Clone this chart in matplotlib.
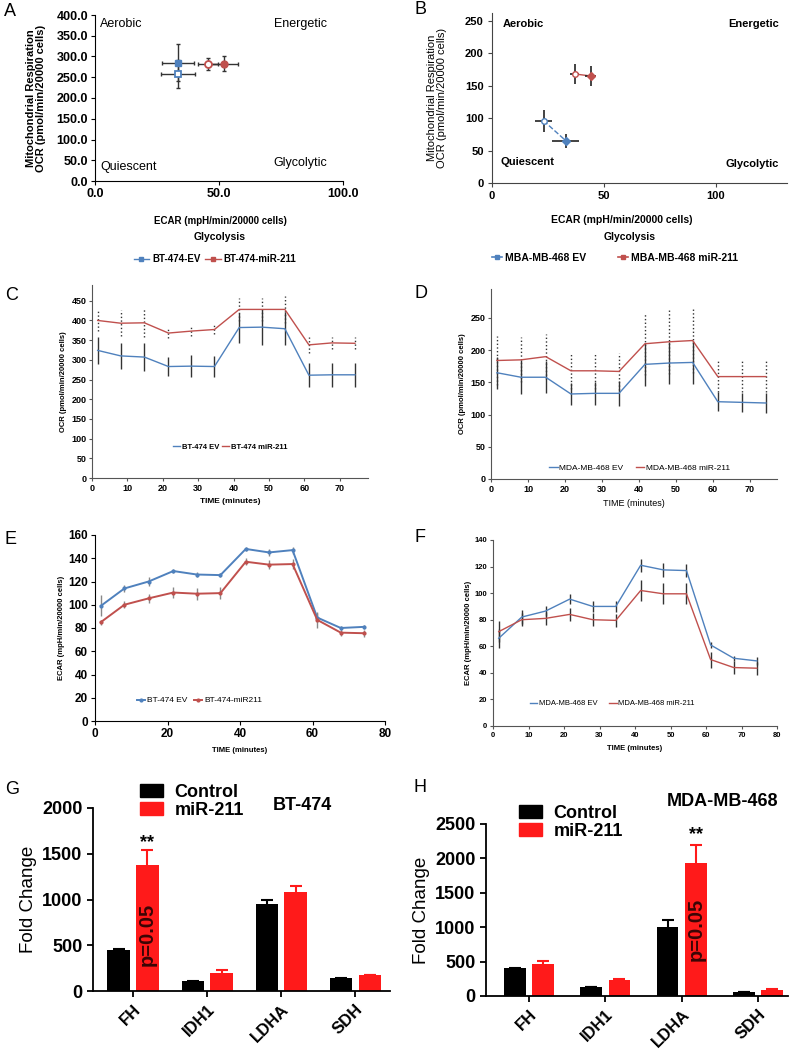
import numpy as np
import matplotlib
matplotlib.use("Agg")
import matplotlib.pyplot as plt
from matplotlib.lines import Line2D
from matplotlib.patches import Patch

plt.rcParams["font.family"] = ["Liberation Sans", "DejaVu Sans"]

W, H = 800, 1051
BLUE = "#4f81bd"
RED = "#c0504d"

# ---- A: energy map BT-474 (open, filled) ----
a_ev_ecar = [33.5, 33.5]
a_ev_ocr = [258, 285]
a_ev_xerr = [7.0, 6.5]
a_ev_yerr = [33, 45]
a_mir_ecar = [45.5, 52.0]
a_mir_ocr = [282, 282]
a_mir_xerr = [4.0, 5.5]
a_mir_yerr = [15, 18]

# ---- B: energy map MDA-MB-468 (open, filled) ----
b_ev_ecar = [23, 33]
b_ev_ocr = [96, 65]
b_ev_xerr = [4, 6]
b_ev_yerr = [17, 11]
b_mir_ecar = [37, 44]
b_mir_ocr = [168, 165]
b_mir_xerr = [2, 2.5]
b_mir_yerr = [16, 16]

# ---- time points (minutes) ----
time = [1.6, 8.1, 14.8, 21.6, 28.1, 34.6, 41.6, 48.0, 54.5, 61.3, 67.8, 74.3]

# ---- C: OCR BT-474 ----
c_ev = [324, 310, 307, 283, 284, 283, 382, 383, 379, 261, 262, 262]
c_ev_err = [34, 33, 35, 25, 28, 27, 38, 45, 42, 30, 30, 30]
c_mir = [400, 393, 394, 368, 373, 377, 428, 428, 428, 338, 343, 342]
c_mir_err = [27, 33, 35, 13, 13, 12, 30, 30, 35, 20, 15, 15]

# ---- D: OCR MDA-MB-468 ----
d_ev = [165, 158, 158, 132, 133, 133, 178, 180, 181, 120, 119, 118]
d_ev_err = [25, 26, 25, 17, 18, 19, 33, 33, 34, 15, 15, 15]
d_mir = [184, 185, 190, 168, 168, 167, 210, 213, 215, 159, 159, 159]
d_mir_err = [38, 35, 35, 28, 28, 29, 48, 50, 50, 24, 24, 24]

# ---- E: ECAR BT-474 ----
e_ev = [99, 114, 120, 129, 126, 125.5, 148, 145, 147, 89, 80, 81]
e_ev_err = [9, 3, 4, 1.5, 2, 2, 2, 3, 3, 4, 2, 2]
e_mir = [85, 100, 105.5, 110.5, 109.5, 110, 137, 134.5, 135, 87, 76, 75.5]
e_mir_err = [2, 3, 4, 5, 5, 5, 3, 4, 4, 7, 3, 3]

# ---- F: ECAR MDA-MB-468 ----
f_ev = [66, 82, 86.5, 95.5, 90, 90, 121, 117.5, 117, 61, 51, 49]
f_ev_err = [7, 5, 4, 4, 4, 4, 5, 5, 5, 2, 2, 3]
f_mir = [71, 80, 81, 84, 80, 79.5, 102, 99.5, 99.5, 50, 44, 43.5]
f_mir_err = [8, 5, 5, 5, 5, 5, 8, 8, 8, 6, 5, 5]

# ---- G / H: fold change ----
genes = ["FH", "IDH1", "LDHA", "SDH"]
g_ctrl = [450, 105, 955, 140]
g_ctrl_err = [10, 5, 40, 5]
g_mir = [1380, 200, 1080, 175]
g_mir_err = [160, 25, 70, 5]
h_ctrl = [400, 130, 1000, 60]
h_ctrl_err = [5, 5, 100, 5]
h_mir = [470, 230, 1930, 90]
h_mir_err = [40, 15, 270, 15]


def px_axes(fig, left, top, right, bottom):
    return fig.add_axes([left / W, 1 - bottom / H, (right - left) / W,
                         (bottom - top) / H])


def fxy(x, y):
    return x / W, 1 - y / H


def plain(ax, color="black"):
    for s in ("top", "right"):
        ax.spines[s].set_visible(False)
    for s in ("left", "bottom"):
        ax.spines[s].set_color(color)


fig = plt.figure(figsize=(8, 10.51), dpi=100)

for letter, x, y in [("A", 10, 12), ("B", 420, 10), ("C", 12, 296),
                     ("D", 421, 294), ("E", 11, 540), ("F", 420, 538),
                     ("G", 12, 789), ("H", 420, 788)]:
    fig.text(*fxy(x, y), letter, fontsize=13, ha="center", va="center")

# ================= A =================
ax = px_axes(fig, 95, 15, 343, 181)
plain(ax)
ax.plot(a_ev_ecar, a_ev_ocr, color=BLUE, lw=1, ls="--")
ax.plot(a_mir_ecar, a_mir_ocr, color=RED, lw=1)
ax.errorbar(a_ev_ecar, a_ev_ocr, xerr=a_ev_xerr, yerr=a_ev_yerr, fmt="none",
            ecolor="#333333", elinewidth=1, capsize=1.5)
ax.errorbar(a_mir_ecar, a_mir_ocr, xerr=a_mir_xerr, yerr=a_mir_yerr,
            fmt="none", ecolor="#333333", elinewidth=1, capsize=1.5)
ax.plot(a_ev_ecar[0], a_ev_ocr[0], "s", mfc="white", mec=BLUE, ms=5, mew=1.3)
ax.plot(a_ev_ecar[1], a_ev_ocr[1], "s", color=BLUE, ms=5)
ax.plot(a_mir_ecar[0], a_mir_ocr[0], "o", mfc="white", mec=RED, ms=5, mew=1.3)
ax.plot(a_mir_ecar[1], a_mir_ocr[1], "o", color=RED, ms=5)
ax.set_xlim(0, 100)
ax.set_ylim(0, 400)
ax.set_xticks([0, 50, 100])
ax.set_xticklabels(["0.0", "50.0", "100.0"], fontweight="bold", fontsize=9)
ax.set_yticks(np.arange(0, 401, 50))
ax.set_yticklabels([f"{v:.1f}" for v in np.arange(0, 401, 50)],
                   fontweight="bold", fontsize=9)
ax.tick_params(length=3, pad=2)
ax.text(2, 378, "Aerobic", fontsize=9, va="center")
ax.text(72, 378, "Energetic", fontsize=9, va="center")
ax.text(2, 33, "Quiescent", fontsize=9, va="center")
ax.text(72, 43, "Glycolytic", fontsize=9, va="center")
fig.text(*fxy(36, 98), "Mitochondrial Respiration\nOCR (pmol/min/20000 cells)",
         rotation=90, ha="center", va="center", fontsize=8,
         fontweight="bold", linespacing=1.0)
fig.text(*fxy(220, 221), "ECAR (mpH/min/20000 cells)", ha="center",
         va="center", fontsize=7, fontweight="bold")
fig.text(*fxy(220, 237), "Glycolysis", ha="center", va="center", fontsize=7.5,
         fontweight="bold")
hA = [Line2D([], [], color=BLUE, marker="s", ms=3.5, lw=1),
      Line2D([], [], color=RED, marker="s", ms=3.5, lw=1)]
fig.legend(hA, ["BT-474-EV", "BT-474-miR-211"], loc="center",
           bbox_to_anchor=fxy(215, 259), ncol=2, frameon=False,
           prop={"size": 7, "weight": "bold"}, handlelength=1.6,
           handletextpad=0.3, columnspacing=0.5)

# ================= B =================
ax = px_axes(fig, 492, 13, 787, 183)
plain(ax, "#444444")
ax.plot(b_ev_ecar, b_ev_ocr, color=BLUE, lw=1, ls="--")
ax.plot(b_mir_ecar, b_mir_ocr, color=RED, lw=1)
ax.errorbar(b_ev_ecar, b_ev_ocr, xerr=b_ev_xerr, yerr=b_ev_yerr, fmt="none",
            ecolor="#222222", elinewidth=1.2, capsize=0)
ax.errorbar(b_mir_ecar, b_mir_ocr, xerr=b_mir_xerr, yerr=b_mir_yerr,
            fmt="none", ecolor="#222222", elinewidth=1.2, capsize=0)
ax.plot(b_ev_ecar[0], b_ev_ocr[0], "o", mfc="white", mec=BLUE, ms=4, mew=1)
ax.plot(b_ev_ecar[1], b_ev_ocr[1], "D", color=BLUE, ms=4)
ax.plot(b_mir_ecar[0], b_mir_ocr[0], "o", mfc="white", mec=RED, ms=4, mew=1)
ax.plot(b_mir_ecar[1], b_mir_ocr[1], "D", color=RED, ms=4)
ax.set_xlim(0, 131.7)
ax.set_ylim(0, 262)
ax.set_xticks([0, 50, 100])
ax.set_yticks(np.arange(0, 251, 50))
for lab in ax.get_xticklabels() + ax.get_yticklabels():
    lab.set_fontweight("bold")
    lab.set_fontsize(8)
ax.tick_params(length=3, pad=3, color="#444444")
ax.text(5, 245, "Aerobic", fontsize=8, fontweight="bold", va="center")
ax.text(128, 245, "Energetic", fontsize=8, fontweight="bold", va="center",
        ha="right")
ax.text(4, 32, "Quiescent", fontsize=8, fontweight="bold", va="center")
ax.text(128, 30, "Glycolytic", fontsize=8, fontweight="bold", va="center",
        ha="right")
fig.text(*fxy(437, 98), "Mitochondrial Respiration\nOCR (pmol/min/20000 cells)",
         rotation=90, ha="center", va="center", fontsize=8,
         linespacing=1.05)
fig.text(*fxy(622, 220), "ECAR (mpH/min/20000 cells)", ha="center",
         va="center", fontsize=7.5, fontweight="bold")
fig.text(*fxy(630, 237), "Glycolysis", ha="center", va="center", fontsize=7.5,
         fontweight="bold")
hB = [Line2D([], [], color=BLUE, marker="s", ms=3, lw=1.2),
      Line2D([], [], color=RED, marker="s", ms=3, lw=1.2)]
fig.legend(hB, ["MBA-MB-468 EV", "MBA-MB-468 miR-211"], loc="center",
           bbox_to_anchor=fxy(615, 258), ncol=2, frameon=False,
           prop={"size": 7.5, "weight": "bold"}, handlelength=1.0,
           handletextpad=0.3, columnspacing=3.0)


def timecourse(ax, ev, ev_err, mir, mir_err, ev_label, mir_label, mir_ls,
               lw=1.0, marker=None, ecolor="#333333", ms=2):
    ax.errorbar(time, ev, yerr=ev_err, fmt="none", ecolor=ecolor,
                elinewidth=1.0, capsize=0, zorder=1)
    eb = ax.errorbar(time, mir, yerr=mir_err, fmt="none", ecolor=ecolor,
                     elinewidth=1.0, capsize=0, zorder=1)
    eb[2][0].set_linestyle(mir_ls)
    ax.plot(time, ev, color=BLUE, lw=lw, marker=marker, ms=ms, zorder=3,
            label=ev_label)
    ax.plot(time, mir, color=RED, lw=lw, marker=marker, ms=ms, zorder=3,
            label=mir_label)
    plain(ax, "#555555")
    ax.tick_params(length=2, pad=2, color="#555555")


# ================= C =================
ax = px_axes(fig, 92, 285, 368, 478)
timecourse(ax, c_ev, c_ev_err, c_mir, c_mir_err, "BT-474 EV",
           "BT-474 miR-211", ":")
ax.set_xlim(0, 78)
ax.set_ylim(0, 490)
ax.set_xticks(np.arange(0, 71, 10))
ax.set_yticks(np.arange(0, 451, 50))
for lab in ax.get_xticklabels() + ax.get_yticklabels():
    lab.set_fontsize(6.5)
    lab.set_fontweight("bold")
ax.set_xlabel("TIME (minutes)", fontsize=6, fontweight="bold", labelpad=4)
ax.set_ylabel("OCR (pmol/min/20000 cells)", fontsize=5.5, fontweight="bold",
              labelpad=3)
ax.legend(loc="center", bbox_to_anchor=(0.5, 0.16), ncol=2, frameon=False,
          prop={"size": 5.5, "weight": "bold"}, handlelength=1.0,
          handletextpad=0.2, columnspacing=0.3)

# ================= D =================
ax = px_axes(fig, 491, 289, 777, 479)
timecourse(ax, d_ev, d_ev_err, d_mir, d_mir_err, "MDA-MB-468 EV",
           "MDA-MB-468 miR-211", ":")
ax.set_xlim(0, 77.3)
ax.set_ylim(0, 295)
ax.set_xticks(np.arange(0, 71, 10))
ax.set_yticks(np.arange(0, 251, 50))
for lab in ax.get_xticklabels() + ax.get_yticklabels():
    lab.set_fontsize(6.5)
    lab.set_fontweight("bold")
ax.set_xlabel("TIME (minutes)", fontsize=6.5, labelpad=4)
ax.set_ylabel("OCR (pmol/min/20000 cells)", fontsize=5.5, fontweight="bold",
              labelpad=3)
ax.legend(loc="center", bbox_to_anchor=(0.52, 0.06), ncol=2, frameon=False,
          prop={"size": 6}, handlelength=1.0, handletextpad=0.2,
          columnspacing=1.5)

# ================= E =================
ax = px_axes(fig, 95, 535, 385, 721)
timecourse(ax, e_ev, e_ev_err, e_mir, e_mir_err, "BT-474 EV",
           "BT-474-miR211", "-", lw=1.4, marker="o", ecolor="#888888", ms=2)
ax.set_xlim(0, 80)
ax.set_ylim(0, 160)
ax.set_xticks(np.arange(0, 81, 20))
ax.set_yticks(np.arange(0, 161, 20))
for lab in ax.get_xticklabels() + ax.get_yticklabels():
    lab.set_fontsize(8.5)
    lab.set_fontweight("bold")
ax.spines["left"].set_color("black")
ax.spines["bottom"].set_color("black")
ax.tick_params(length=3, color="black")
ax.set_xlabel("TIME (minutes)", fontsize=5.5, fontweight="bold", labelpad=5)
ax.set_ylabel("ECAR (mpH/min/20000 cells)", fontsize=5.5, fontweight="bold",
              labelpad=2)
ax.legend(loc="center", bbox_to_anchor=(0.36, 0.11), ncol=2, frameon=False,
          prop={"size": 6}, handlelength=1.0, handletextpad=0.2,
          columnspacing=0.8)

# ================= F =================
ax = px_axes(fig, 493, 540, 777, 726)
timecourse(ax, f_ev, f_ev_err, f_mir, f_mir_err, "MDA-MB-468 EV",
           "MDA-MB-468 miR-211", "-", lw=1.0, ecolor="#333333")
ax.set_xlim(0, 80)
ax.set_ylim(0, 140)
ax.set_xticks(np.arange(0, 81, 10))
ax.set_yticks(np.arange(0, 141, 20))
for lab in ax.get_xticklabels() + ax.get_yticklabels():
    lab.set_fontsize(5.5)
    lab.set_fontweight("bold")
ax.set_xlabel("TIME (minutes)", fontsize=5.5, fontweight="bold", labelpad=5)
ax.set_ylabel("ECAR (mpH/min/20000 cells)", fontsize=5.5, fontweight="bold",
              labelpad=2)
ax.legend(loc="center", bbox_to_anchor=(0.42, 0.12), ncol=2, frameon=False,
          prop={"size": 5.5}, handlelength=1.0, handletextpad=0.2,
          columnspacing=1.5)


def foldchange(ax, ctrl, ctrl_err, mir, mir_err, ylim, yticks, width, off):
    x = np.arange(len(genes))
    ax.bar(x - off, ctrl, width, color="black", yerr=ctrl_err,
           error_kw=dict(ecolor="black", elinewidth=1.5, capsize=4,
                         capthick=1.5))
    ax.bar(x + off, mir, width, color="#ff1a1a", yerr=mir_err,
           error_kw=dict(ecolor="#ff1a1a", elinewidth=1.5, capsize=4,
                         capthick=1.5))
    for s in ("top", "right"):
        ax.spines[s].set_visible(False)
    ax.spines["left"].set_linewidth(1.3)
    ax.spines["bottom"].set_linewidth(1.3)
    ax.set_ylim(*ylim)
    ax.set_yticks(yticks)
    ax.set_xticks(x)
    ax.set_xticklabels(genes, rotation=45, ha="right", rotation_mode="anchor",
                       fontsize=12, fontweight="bold")
    for lab in ax.get_yticklabels():
        lab.set_fontsize(13)
        lab.set_fontweight("bold")
    ax.tick_params(width=1.3, length=4)
    ax.set_ylabel("Fold Change", fontsize=13.5, labelpad=4)
    return x


# ================= G =================
ax = px_axes(fig, 93, 808, 390, 991)
x = foldchange(ax, g_ctrl, g_ctrl_err, g_mir, g_mir_err, (0, 2000),
               np.arange(0, 2001, 500), 0.3, 0.195)
ax.set_xlim(-0.54, 3.47)
ax.text(x[0] + 0.195, 1620, "**", ha="center", va="center", fontsize=13,
        fontweight="bold")
ax.text(x[0] + 0.195, 620, "p=0.05", rotation=90, ha="center", va="center",
        fontsize=14.5, fontweight="bold", color="#3a0505")
fig.text(*fxy(302, 805), "BT-474", ha="center", va="center", fontsize=13,
         fontweight="bold")
hG = [Patch(color="black"), Patch(color="#ff1a1a")]
fig.legend(hG, ["Control", "miR-211"], loc="upper left",
           bbox_to_anchor=fxy(140, 784), frameon=False,
           prop={"size": 13, "weight": "bold"}, handlelength=1.3,
           handleheight=0.75, handletextpad=0.6, labelspacing=0.05,
           borderpad=0, borderaxespad=0)

# ================= H =================
ax = px_axes(fig, 486, 824, 788, 996)
x = foldchange(ax, h_ctrl, h_ctrl_err, h_mir, h_mir_err, (0, 2500),
               np.arange(0, 2501, 500), 0.285, 0.185)
ax.set_xlim(-0.56, 3.39)
ax.text(x[2] + 0.185, 2340, "**", ha="center", va="center", fontsize=13,
        fontweight="bold")
ax.text(x[2] + 0.185, 975, "p=0.05", rotation=90, ha="center", va="center",
        fontsize=14.5, fontweight="bold", color="#3a0505")
fig.text(*fxy(722, 802), "MDA-MB-468", ha="center", va="center", fontsize=13,
         fontweight="bold")
fig.legend(hG, ["Control", "miR-211"], loc="upper left",
           bbox_to_anchor=fxy(519, 805), frameon=False,
           prop={"size": 13, "weight": "bold"}, handlelength=1.3,
           handleheight=0.75, handletextpad=0.6, labelspacing=0.05,
           borderpad=0, borderaxespad=0)

fig.savefig("out.png", dpi=100)
